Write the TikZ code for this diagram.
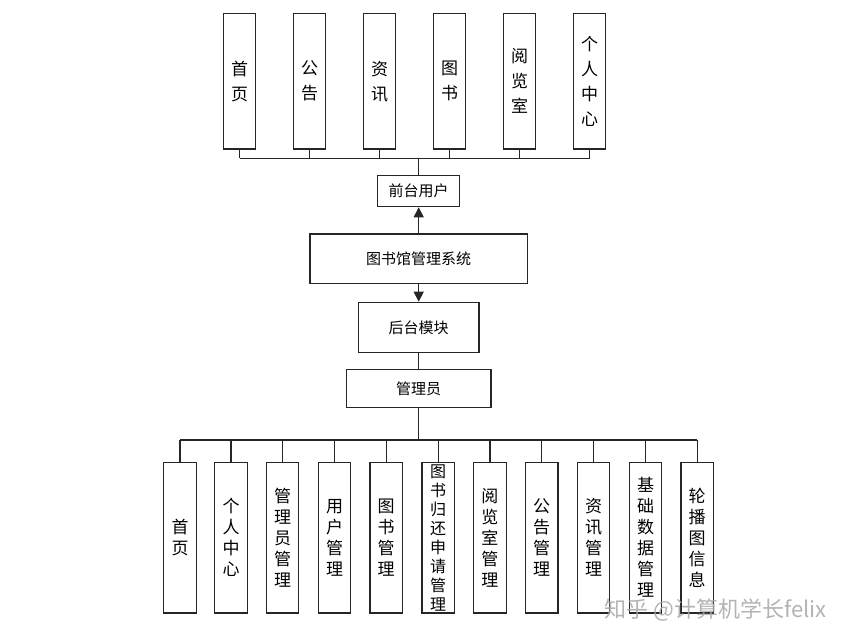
\documentclass[tikz,border=0pt]{standalone}
\usepackage{fontspec}
\newfontfamily\cjk{Noto Sans CJK SC}
\usetikzlibrary{arrows.meta}
\tikzset{
  box/.style={draw=black!85, line width=1.2pt, fill=white, inner sep=0pt, align=center, font=\cjk},
  topbox/.style={box, minimum width=32.4pt, minimum height=135.7pt, font=\cjk\fontsize{17}{25}\selectfont},
  botbox/.style={box, minimum width=32.5pt, minimum height=150.7pt, font=\cjk\fontsize{17}{21}\selectfont},
  hbox/.style={box, font=\cjk\fontsize{15}{18}\selectfont},
  conn/.style={draw=black!85, line width=1.3pt},
  arr/.style={conn, -{Triangle[length=10pt,width=10pt]}}
}
\begin{document}
\begin{tikzpicture}[x=1pt,y=-1pt]
\useasboundingbox (0,0) rectangle (868,641);
% top row
\node[topbox] (t1) at (239.5,81.2) {首\\页};
\node[topbox] (t2) at (309.5,81.2) {公\\告};
\node[topbox] (t3) at (379.5,81.2) {资\\讯};
\node[topbox] (t4) at (449.5,81.2) {图\\书};
\node[topbox] (t5) at (519.5,81.2) {阅\\览\\室};
\node[topbox] (t6) at (589.5,81.2) {个\\人\\中\\心};
% middle
\node[hbox, minimum width=82pt, minimum height=31pt] (qt) at (418.7,191.2) {前台用户};
\node[hbox, minimum width=217.3pt, minimum height=49.7pt] (sys) at (418.7,258.9) {图书馆管理系统};
\node[hbox, minimum width=120.7pt, minimum height=50pt] (ht) at (418.7,327.3) {后台模块};
\node[hbox, minimum width=144.7pt, minimum height=38.4pt] (gly) at (418.7,388.5) {管理员};
% bottom row
\node[botbox] (b1) at (180,537.6) {首\\页};
\node[botbox] (b2) at (231,537.6) {个\\人\\中\\心};
\node[botbox] (b3) at (282.5,537.6) {管\\理\\员\\管\\理};
\node[botbox] (b4) at (334.5,537.6) {用\\户\\管\\理};
\node[botbox] (b5) at (386.2,537.6) {图\\书\\管\\理};
\node[botbox, font=\cjk\fontsize{16}{19}\selectfont] (b6) at (438.2,537.6) {图\\书\\归\\还\\申\\请\\管\\理};
\node[botbox] (b7) at (489.9,537.6) {阅\\览\\室\\管\\理};
\node[botbox] (b8) at (541.7,537.6) {公\\告\\管\\理};
\node[botbox] (b9) at (593.5,537.6) {资\\讯\\管\\理};
\node[botbox] (b10) at (645.5,537.6) {基\\础\\数\\据\\管\\理};
\node[botbox] (b11) at (697.2,537.6) {轮\\播\\图\\信\\息};
% top bus
\coordinate (tb) at (418.7,158.3);
\foreach \i in {1,...,6} { \draw[conn] (t\i.south) -- (t\i.south |- tb); }
\draw[conn] (t1.south |- tb) -- (t6.south |- tb);
\draw[conn] (qt.north) -- (tb);
% arrows
\draw[arr] (sys.north) -- (qt.south);
\draw[arr] (sys.south) -- (ht.north);
\draw[conn] (ht.south) -- (gly.north);
% bottom bus
\coordinate (bb) at (418.7,440);
\draw[conn] (gly.south) -- (bb);
\foreach \i in {1,...,11} { \draw[conn] (b\i.north) -- (b\i.north |- bb); }
\draw[conn] (b1.north |- bb) -- (b11.north |- bb);
% watermark
\node[font=\cjk\fontsize{22}{24}\selectfont, text=black!35, opacity=0.85, inner sep=0pt] (wm) at (715.5,610) {知乎 @计算机学长felix};
\end{tikzpicture}
\end{document}
